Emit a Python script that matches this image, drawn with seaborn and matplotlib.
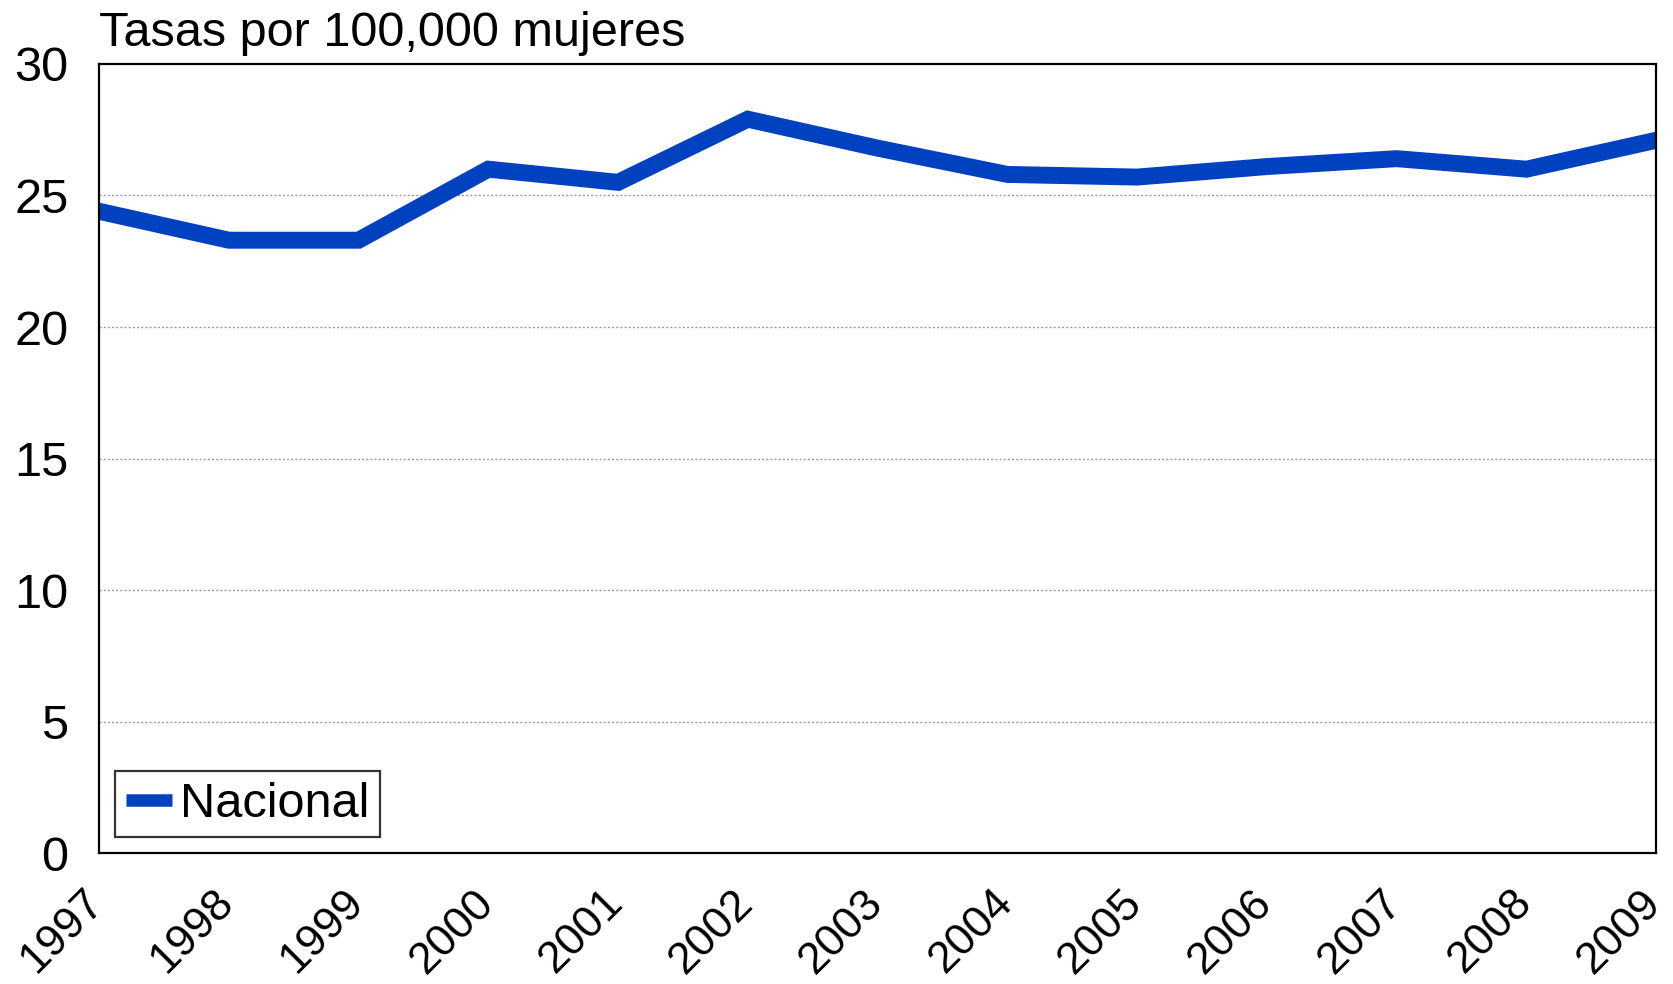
import pandas as pd
import matplotlib
matplotlib.use('Agg')
import matplotlib.pyplot as plt
import matplotlib.transforms as mtransforms
import seaborn as sns

# Data
years = [1997, 1998, 1999, 2000, 2001, 2002, 2003, 2004, 2005, 2006, 2007, 2008, 2009]
tasas = [24.4, 23.3, 23.3, 26.0, 25.5, 27.9, 26.8, 25.8, 25.7, 26.1, 26.4, 26.0, 27.1]
y_ticks = [0, 5, 10, 15, 20, 25, 30]
serie = 'Nacional'
titulo = 'Tasas por 100,000 mujeres'

df = pd.DataFrame({'Año': years, 'Tasa': tasas})

sns.set_style('white')
plt.rcParams['font.family'] = ['Liberation Sans', 'DejaVu Sans']
plt.rcParams['text.color'] = 'black'

fig = plt.figure(figsize=(16.73, 9.84), dpi=100)
ax = fig.add_axes([0.0592, 0.133, 0.9308, 0.802])

sns.lineplot(data=df, x='Año', y='Tasa', ax=ax, color='#0041C0',
             linewidth=12.2, label=serie, solid_joinstyle='miter')

ax.set_xlim(1997, 2009)
ax.set_ylim(0, 30)
ax.set_yticks(y_ticks)
ax.set_xticks(years)
ax.set_xticklabels([str(y) for y in years], rotation=45, ha='right',
                   va='baseline', rotation_mode='anchor')
ax.tick_params(axis='both', length=0, colors='black')
ax.tick_params(axis='y', pad=22, labelsize=35)
ax.tick_params(axis='x', pad=40, labelsize=32)
ax.set_xlabel('')
ax.set_ylabel('')

# nudge the year labels a little to the right, like the original
shift = mtransforms.ScaledTranslation(5 / 72, 3 / 72, fig.dpi_scale_trans)
for lbl in ax.get_xticklabels():
    lbl.set_transform(lbl.get_transform() + shift)

# dotted grid on the inner y values
for v in y_ticks[1:-1]:
    ax.axhline(v, color='#9a9a9a', linewidth=1.0, linestyle=(0, (1.5, 1.5)), zorder=0)

for s in ax.spines.values():
    s.set_visible(True)
    s.set_color('black')
    s.set_linewidth(1.6)

ax.text(0.0, 1.01, titulo, transform=ax.transAxes, fontsize=35,
        ha='left', va='bottom', color='black')

leg = ax.legend(loc='lower left', bbox_to_anchor=(0.0105, 0.02), fontsize=35,
                frameon=True, fancybox=False, handlelength=0.95,
                handletextpad=0.15, borderpad=0.22, borderaxespad=0.0)
leg.get_frame().set_edgecolor('black')
leg.get_frame().set_linewidth(1.6)
for h in leg.get_lines():
    h.set_linewidth(9)
    h.set_solid_capstyle('butt')

plt.savefig('out.png', dpi=100)
